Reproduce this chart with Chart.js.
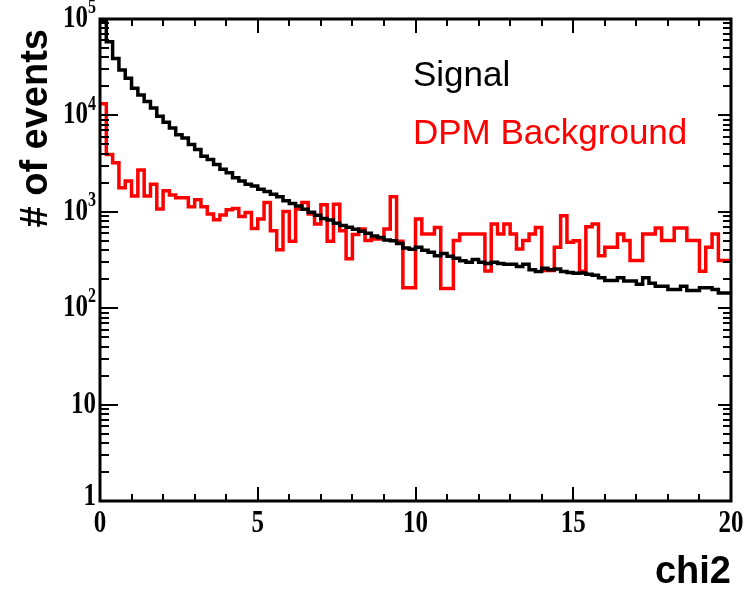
<!DOCTYPE html>
<html>
<head>
<meta charset="utf-8">
<script src="https://cdn.jsdelivr.net/npm/chart.js@4.4.0/dist/chart.umd.min.js"></script>
<style>
  html, body { margin: 0; padding: 0; background: #fff; }
</style>
</head>
<body>
<canvas id="chi2Chart" width="747" height="590"></canvas>
<script>
// chi2 histograms, 100 bins of 0.2 from 0 to 20
const binWidth = 0.2;

const signalCounts = [
  95000, 58000, 39000, 29600, 24300, 19100, 16300, 13900, 11900, 9770,
  8470, 7400, 6310, 5830, 4990, 4430, 3780, 3490, 3100, 2760,
  2540, 2260, 2090, 1930, 1850, 1710, 1620, 1520, 1430, 1300,
  1220, 1150, 1060, 990, 920, 850, 820, 760, 720, 690,
  660, 630, 600, 560, 540, 510, 500, 470, 420, 410,
  430, 400, 380, 350, 370, 345, 330, 310, 300, 320,
  300, 290, 300, 290, 285, 285, 270, 285, 250, 240,
  260, 250, 255, 240, 235, 230, 232, 225, 220, 207,
  194, 194, 207, 191, 191, 177, 207, 182, 169, 169,
  156, 156, 169, 153, 153, 163, 163, 156, 144, 144
];

const dpmCounts = [
  13200, 3940, 3220, 1780, 2090, 1460, 2710, 1460, 1930, 1070,
  1650, 1490, 1400, 1400, 1130, 1330, 1130, 946, 827, 925,
  1050, 1080, 894, 984, 673, 841, 1250, 637, 403, 1010,
  494, 1070, 1250, 946, 747, 1180, 494, 1200, 637, 325,
  580, 663, 504, 523, 523, 663, 1430, 494, 163, 163,
  841, 589, 589, 689, 160, 160, 504, 589, 589, 589,
  589, 243, 747, 589, 747, 589, 412, 504, 589, 689,
  246, 246, 429, 909, 483, 500, 241, 700, 747, 350,
  429, 429, 589, 504, 313, 313, 589, 589, 679, 504,
  504, 679, 679, 504, 504, 241, 429, 589, 313, 313
];

const xTickValues = [0, 5, 10, 15, 20];
const yTickValues = [1, 10, 100, 1000, 10000, 100000];
const yTickBase = ['1', '10', '10', '10', '10', '10'];
const yTickExp = ['', '', '2', '3', '4', '5'];

// histogram outline: one point per left bin edge plus the closing edge
function toSteps(counts) {
  const pts = counts.map((c, i) => ({ x: i * binWidth, y: c }));
  pts.push({ x: counts.length * binWidth, y: counts[counts.length - 1] });
  return pts;
}

const serif = '"Liberation Serif", "DejaVu Serif", serif';
const sans = '"Liberation Sans", Arial, sans-serif';

function stretchedText(ctx, text, x, y, scaleY) {
  ctx.save();
  ctx.translate(x, y);
  ctx.scale(1, scaleY);
  ctx.fillText(text, 0, 0);
  ctx.restore();
}

const rootFrame = {
  id: 'rootFrame',
  afterDatasetsDraw(chart) {
    const ctx = chart.ctx;
    const a = chart.chartArea;
    const xs = chart.scales.x;
    const ys = chart.scales.y;

    ctx.save();
    ctx.strokeStyle = '#000';
    ctx.lineWidth = 3;
    ctx.strokeRect(a.left, a.top, a.right - a.left, a.bottom - a.top);

    // x ticks, inward on bottom and top
    ctx.lineWidth = 2;
    ctx.beginPath();
    for (let v = 0; v <= 20; v++) {
      const px = Math.round(xs.getPixelForValue(v));
      const len = v % 5 === 0 ? 14 : 7;
      ctx.moveTo(px, a.bottom); ctx.lineTo(px, a.bottom - len);
      ctx.moveTo(px, a.top); ctx.lineTo(px, a.top + len);
    }
    // y ticks, log decades with 2..9 minors
    for (let d = 0; d < 5; d++) {
      for (let m = 1; m <= 10; m++) {
        const v = m * Math.pow(10, d);
        const py = Math.round(ys.getPixelForValue(v));
        const major = m === 1 || m === 10;
        ctx.moveTo(a.left, py); ctx.lineTo(a.left + (major ? 18 : 9), py);
        ctx.moveTo(a.right, py); ctx.lineTo(a.right - (major ? 13 : 8), py);
      }
    }
    ctx.stroke();

    // x tick labels
    ctx.fillStyle = '#000';
    ctx.font = 'bold 25px ' + serif;
    ctx.textAlign = 'center';
    ctx.textBaseline = 'top';
    xTickValues.forEach(v => {
      stretchedText(ctx, String(v), xs.getPixelForValue(v), a.bottom + 7, 1.25);
    });

    // y tick labels with superscript exponents
    ctx.textBaseline = 'middle';
    yTickValues.forEach((v, i) => {
      const py = ys.getPixelForValue(v);
      const exp = yTickExp[i];
      ctx.font = 'bold 16px ' + serif;
      const ew = exp ? ctx.measureText(exp).width : 0;
      const right = a.left - 4;
      if (exp) {
        ctx.textAlign = 'right';
        stretchedText(ctx, exp, right, py - 11, 1.25);
      }
      ctx.font = 'bold 25px ' + serif;
      ctx.textAlign = 'right';
      const yoff = i === 0 ? -4 : 0;
      stretchedText(ctx, yTickBase[i], right - ew, py + yoff, 1.25);
    });

    // series names in their line colours
    ctx.font = '35px ' + sans;
    ctx.textAlign = 'left';
    ctx.textBaseline = 'alphabetic';
    const nameY = [86, 144];
    chart.data.datasets.forEach((ds, i) => {
      ctx.fillStyle = ds.borderColor;
      ctx.fillText(ds.label, 413, nameY[i]);
    });

    // axis titles
    ctx.fillStyle = '#000';
    ctx.font = 'bold 38px ' + sans;
    ctx.textAlign = 'right';
    ctx.fillText('chi2', a.right, 583);

    ctx.save();
    ctx.translate(47, 29);
    ctx.rotate(-Math.PI / 2);
    ctx.font = 'bold 38px ' + sans;
    ctx.textAlign = 'right';
    ctx.fillText('# of events', 0, 0);
    ctx.restore();

    ctx.restore();
  }
};

new Chart(document.getElementById('chi2Chart'), {
  type: 'line',
  data: {
    datasets: [
      {
        label: 'Signal',
        data: toSteps(signalCounts),
        borderColor: '#000000',
        borderWidth: 3.5,
        stepped: true,
        pointRadius: 0,
        fill: false
      },
      {
        label: 'DPM Background',
        data: toSteps(dpmCounts),
        borderColor: '#ff0000',
        borderWidth: 3.5,
        stepped: true,
        pointRadius: 0,
        fill: false
      }
    ]
  },
  options: {
    responsive: false,
    animation: false,
    layout: { padding: { left: 100, right: 16, top: 19, bottom: 89 } },
    plugins: { legend: { display: false }, tooltip: { enabled: false } },
    scales: {
      x: { type: 'linear', min: 0, max: 20, display: false },
      y: { type: 'logarithmic', min: 1, max: 100000, display: false }
    }
  },
  plugins: [rootFrame]
});
</script>
</body>
</html>
